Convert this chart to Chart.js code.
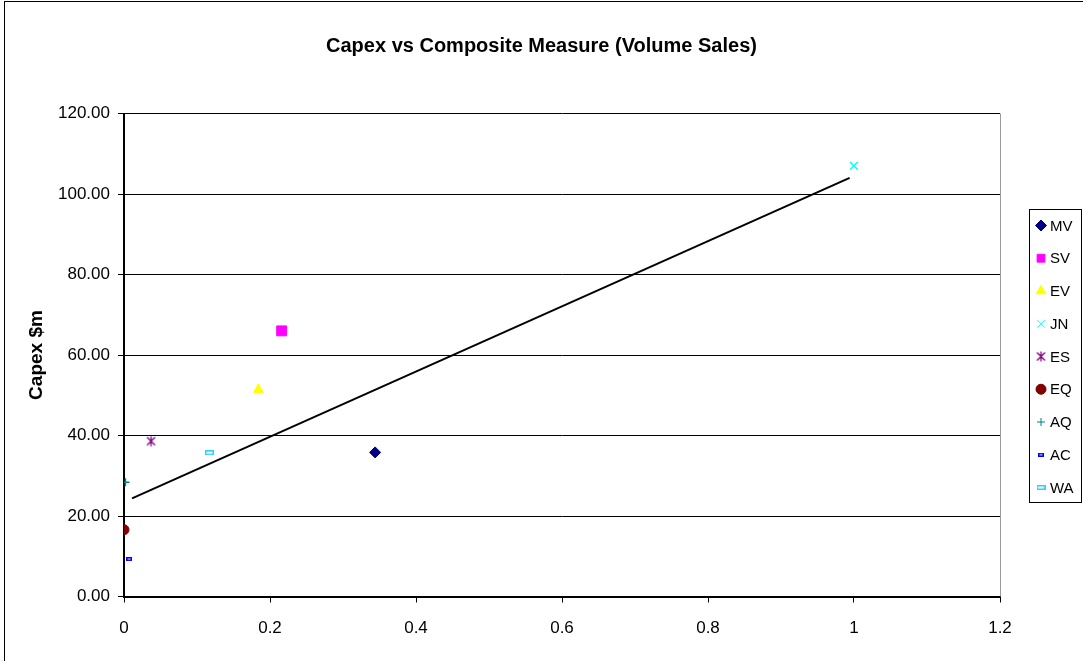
<!DOCTYPE html>
<html><head><meta charset="utf-8">
<script src="https://cdn.jsdelivr.net/npm/chart.js@4.4.1/dist/chart.umd.min.js"></script>
<style>html,body{margin:0;padding:0;background:#fff;}canvas{display:block;}</style>
</head><body>
<canvas id="c" width="1083" height="661"></canvas>
<script>
// ---- data ----
const seriesNames  = ['MV', 'SV', 'EV', 'JN', 'ES', 'EQ', 'AQ', 'AC', 'WA'];
const xValues      = [0.344, 0.216, 0.184, 1.0, 0.037, 0.0, 0.002, 0.007, 0.117];
const yValues      = [35.8, 66.0, 51.4, 107.0, 38.6, 16.6, 28.4, 9.3, 35.7];
const seriesColors = ['#000080', '#FF00FF', '#FFFF00', '#00FFFF', '#800080', '#800000', '#008080', '#0000FF', '#33CCFF'];
const trendX = [0.011, 0.994];
const trendY = [24.4, 104.0];
const chartTitle = 'Capex vs Composite Measure (Volume Sales)';
const yAxisTitle = 'Capex $m';

// ---- marker images for Excel-like markers ----
function makeStar(color){
  const c=document.createElement('canvas'); c.width=11; c.height=11;
  const g=c.getContext('2d'); g.strokeStyle=color; g.lineWidth=1.3;
  g.beginPath(); g.moveTo(1.5,1.5); g.lineTo(9.5,9.5); g.moveTo(9.5,1.5); g.lineTo(1.5,9.5);
  g.moveTo(5.5,0.5); g.lineTo(5.5,10.5); g.stroke(); return c;
}
function makeDash(color,w,h){
  const c=document.createElement('canvas'); c.width=w; c.height=h;
  const g=c.getContext('2d'); g.fillStyle='#fff'; g.fillRect(0,0,w,h);
  g.strokeStyle=color; g.lineWidth=1.5; g.strokeRect(0.75,0.75,w-1.5,h-1.5); return c;
}
const markerStyles = ['rectRot','rect','triangle','crossRot', makeStar('#800080'),'circle','cross', makeDash('#0000FF',6,4), makeDash('#33CCFF',9,5)];
const markerRadius = [5.5, 7, 5.5, 5.5, 5, 5, 4, 4, 5];
const markerBorder = [1, 1, 1, 1.5, 1, 1, 1.5, 1, 1];

const FONT = "'Liberation Sans', Arial, sans-serif";
Chart.defaults.font.family = FONT;
Chart.defaults.color = '#000';

const datasets = seriesNames.map((n,i)=>({
  label:n,
  data:[{x:xValues[i], y:yValues[i]}],
  pointStyle:markerStyles[i],
  pointRadius:markerRadius[i],
  pointHoverRadius:markerRadius[i],
  pointBorderWidth:markerBorder[i],
  backgroundColor:seriesColors[i],
  borderColor:seriesColors[i],
  showLine:false
}));
datasets.push({
  label:'trend', isTrend:true,
  data: trendX.map((x,i)=>({x, y:trendY[i]})),
  showLine:true, borderColor:'#000', borderWidth:2, pointRadius:0, fill:false
});

const framePlugin = {
  id:'frame',
  beforeDraw(chart){
    const ctx=chart.ctx; ctx.save();
    ctx.fillStyle='#fff'; ctx.fillRect(0,0,chart.width,chart.height);
    ctx.strokeStyle='#000'; ctx.lineWidth=1;
    ctx.strokeRect(4.5,1.5,chart.width+10,chart.height+10);
    ctx.restore();
  },
  afterDatasetsDraw(chart){
    const ctx=chart.ctx, a=chart.chartArea; ctx.save();
    ctx.strokeStyle='#999'; ctx.lineWidth=1;
    ctx.beginPath(); ctx.moveTo(Math.round(a.right)+0.5,a.top); ctx.lineTo(Math.round(a.right)+0.5,a.bottom); ctx.stroke();
    ctx.restore();
  },
  afterDraw(chart){
    const ctx=chart.ctx; ctx.save();
    ctx.strokeStyle='#000'; ctx.lineWidth=1;
    ctx.strokeRect(1029.5,209.5,52,293);
    ctx.font="15px "+FONT; ctx.textBaseline='middle'; ctx.textAlign='left';
    chart.data.datasets.forEach((ds,i)=>{
      if(ds.isTrend) return;
      const y=225.5+i*32.75;
      ctx.fillStyle=ds.backgroundColor; ctx.strokeStyle=ds.borderColor;
      const r=Math.min(ds.pointRadius,5.5);
      Chart.helpers.drawPoint(ctx,{pointStyle:ds.pointStyle,radius:r,rotation:0,borderWidth:ds.pointBorderWidth},1041,y);
      ctx.fillStyle='#000';
      ctx.fillText(ds.label,1050,y+1);
    });
    ctx.restore();
  }
};

new Chart(document.getElementById('c'),{
  type:'scatter',
  data:{datasets},
  plugins:[framePlugin],
  options:{
    responsive:false, animation:false, devicePixelRatio:1,
    layout:{padding:{left:0,right:0,top:0,bottom:0}},
    plugins:{
      legend:{display:false}, tooltip:{enabled:false},
      title:{display:true,text:chartTitle,color:'#000',font:{size:20,weight:'bold',family:FONT},padding:{top:34,bottom:55.5}}
    },
    scales:{
      x:{type:'linear',min:0,max:1.2,
        ticks:{stepSize:0.2,font:{size:17},color:'#000',padding:16,callback:v=>String(Number(v.toFixed(1)))},
        grid:{drawOnChartArea:false,drawTicks:true,tickLength:6,color:'#000'},
        border:{display:true,color:'#000',width:2},
        afterFit(s){s.height=64.5;}
      },
      y:{type:'linear',min:0,max:120,
        ticks:{stepSize:20,font:{size:17},color:'#000',padding:8,callback:v=>v.toFixed(2)},
        grid:{color:'#000',lineWidth:1,tickLength:6,drawTicks:true},
        border:{display:true,color:'#000',width:2},
        title:{display:true,text:yAxisTitle,color:'#000',font:{size:19,weight:'bold',family:FONT},padding:{top:25.6,bottom:4}},
        afterFit(s){s.width=124;}
      },
      yr:{type:'linear',position:'right',min:0,max:120,display:true,
        ticks:{display:false},grid:{display:false,drawTicks:false},border:{display:false},
        afterFit(s){s.width=83;}
      }
    }
  }
});
</script>
</body></html>
